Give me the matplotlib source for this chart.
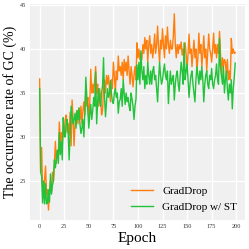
import matplotlib
matplotlib.use("Agg")
import matplotlib.pyplot as plt
import numpy as np

epochs = list(range(200))

graddrop = [
    36.6, 26.0, 28.8, 24.0, 23.3, 25.2, 26.7, 23.5, 24.0, 21.7,
    24.0, 25.0, 23.7, 26.0, 25.0, 27.0, 29.5, 27.0, 28.5, 27.8,
    31.7, 29.5, 30.5, 29.0, 31.5, 30.0, 32.0, 32.5, 30.5, 31.5,
    30.2, 32.8, 29.0, 34.2, 32.0, 29.0, 31.5, 32.5, 33.0, 31.5,
    33.3, 32.0, 33.5, 31.5, 33.0, 34.0, 32.5, 35.5, 33.5, 34.5,
    32.0, 34.0, 37.7, 35.0, 36.0, 35.0, 36.5, 38.0, 35.0, 36.0,
    33.5, 35.5, 34.5, 32.5, 33.0, 35.5, 36.5, 35.0, 37.0, 36.0,
    37.0, 35.5, 34.0, 36.5, 35.5, 38.5, 37.0, 35.0, 37.5, 36.5,
    39.2, 37.5, 38.0, 37.0, 38.5, 36.5, 38.8, 37.5, 38.5, 37.0,
    39.2, 37.5, 36.0, 38.0, 37.0, 35.7, 37.0, 38.0, 36.5, 40.7,
    39.0, 40.0, 38.8, 39.5, 38.8, 40.5, 39.5, 41.3, 40.0, 41.0,
    38.5, 40.5, 41.5, 39.5, 40.5, 39.0, 40.0, 41.7, 39.5, 40.5,
    42.6, 40.0, 38.5, 41.0, 40.0, 42.3, 40.5, 39.0, 41.5, 40.0,
    42.5, 40.5, 39.5, 41.0, 40.0, 40.0, 41.5, 44.0, 40.5, 39.0,
    40.5, 39.5, 40.5, 40.0, 40.8, 39.3, 40.0, 39.0, 40.7, 39.5,
    37.7, 39.5, 41.7, 39.5, 40.0, 38.0, 39.5, 41.0, 39.0, 40.0,
    37.5, 39.0, 41.8, 39.5, 40.5, 38.0, 39.5, 41.5, 39.0, 40.0,
    37.5, 39.5, 41.7, 40.0, 39.5, 38.5, 40.0, 41.8, 39.5, 40.5,
    39.0, 40.5, 39.5, 42.0, 39.5, 37.0, 39.0, 38.0, 38.8, 38.5,
    37.0, 38.8, 36.5, 37.5, 36.5, 41.2, 39.5, 40.0, 39.5, 39.6,
]

graddrop_st = [
    35.5, 26.0, 25.5, 22.5, 25.0, 22.4, 24.7, 22.4, 22.5, 24.0,
    22.6, 25.8, 23.5, 24.5, 25.0, 27.4, 26.5, 27.5, 28.5, 27.0,
    30.5, 28.0, 29.5, 27.4, 32.2, 30.5, 30.0, 31.5, 32.0, 30.5,
    27.4, 30.5, 33.5, 32.5, 31.5, 32.0, 32.7, 31.0, 33.0, 32.0,
    33.3, 31.5, 30.4, 31.0, 32.0, 30.0, 33.0, 36.8, 34.5, 33.0,
    31.0, 32.5, 33.7, 32.0, 33.0, 34.5, 33.5, 37.4, 31.5, 34.0,
    35.5, 34.0, 33.5, 35.0, 35.8, 39.0, 34.5, 32.3, 34.0, 35.5,
    34.5, 35.0, 36.4, 35.0, 34.0, 33.8, 35.0, 35.5, 34.5, 35.0,
    32.7, 34.0, 34.3, 35.5, 33.5, 36.5, 35.0, 33.7, 35.0, 34.0,
    34.5, 33.5, 33.0, 35.0, 34.3, 33.5, 32.0, 33.5, 34.3, 38.2,
    36.5, 38.5, 36.0, 39.8, 37.5, 36.5, 38.0, 35.5, 37.0, 36.0,
    38.5, 37.0, 36.0, 37.5, 36.0, 37.5, 38.0, 36.5, 37.0, 35.5,
    34.0, 36.5, 38.5, 37.0, 36.0, 36.5, 37.5, 38.3, 37.0, 36.5,
    37.5, 33.8, 36.0, 37.5, 36.0, 36.6, 37.0, 34.2, 36.0, 37.0,
    37.5, 36.0, 35.2, 37.0, 38.5, 37.5, 36.0, 40.7, 36.5, 37.5,
    38.3, 36.5, 34.5, 36.0, 37.0, 37.5, 36.0, 35.0, 34.0, 36.5,
    38.0, 37.0, 36.0, 37.5, 36.5, 38.0, 36.5, 34.0, 36.0, 37.0,
    37.5, 36.0, 35.5, 37.0, 36.5, 37.8, 36.0, 35.5, 36.5, 37.0,
    38.3, 36.5, 36.0, 41.2, 38.0, 37.0, 36.0, 38.0, 35.0, 36.5,
    37.5, 35.5, 34.2, 36.0, 35.0, 36.5, 33.2, 35.5, 36.8, 38.4,
]

series_labels = ["GradDrop", "GradDrop w/ ST"]
x_ticks = [0, 25, 50, 75, 100, 125, 150, 175, 200]
y_ticks = [25, 30, 35, 40, 45]

plt.rcParams['font.family'] = ['Liberation Serif', 'DejaVu Serif']

fig = plt.figure(figsize=(2.49, 2.49), dpi=100)
ax = fig.add_axes([0.12, 0.117, 0.864, 0.867])
ax.set_facecolor('#f0f0f0')
ax.plot(epochs, graddrop, color='#ff7f0e', lw=1.0, label=series_labels[0])
ax.plot(epochs, graddrop_st, color='#22c33a', lw=1.0, label=series_labels[1])

ax.set_xticks(x_ticks)
ax.set_yticks(y_ticks)
ax.tick_params(axis='both', length=0, labelsize=4.5, pad=3, colors='#333333')
ax.grid(True, color='white', lw=1.0)
ax.set_axisbelow(True)
for s in ax.spines.values():
    s.set_visible(False)

ax.set_xlabel("Epoch", fontsize=11, labelpad=2)
ax.set_ylabel("The occurrence rate of GC (%)", fontsize=10, labelpad=2)

ax.legend(loc='lower right', frameon=False, fontsize=8, handlelength=2.0,
          borderaxespad=0.3, labelspacing=0.6)

fig.savefig("out.png", dpi=100)
